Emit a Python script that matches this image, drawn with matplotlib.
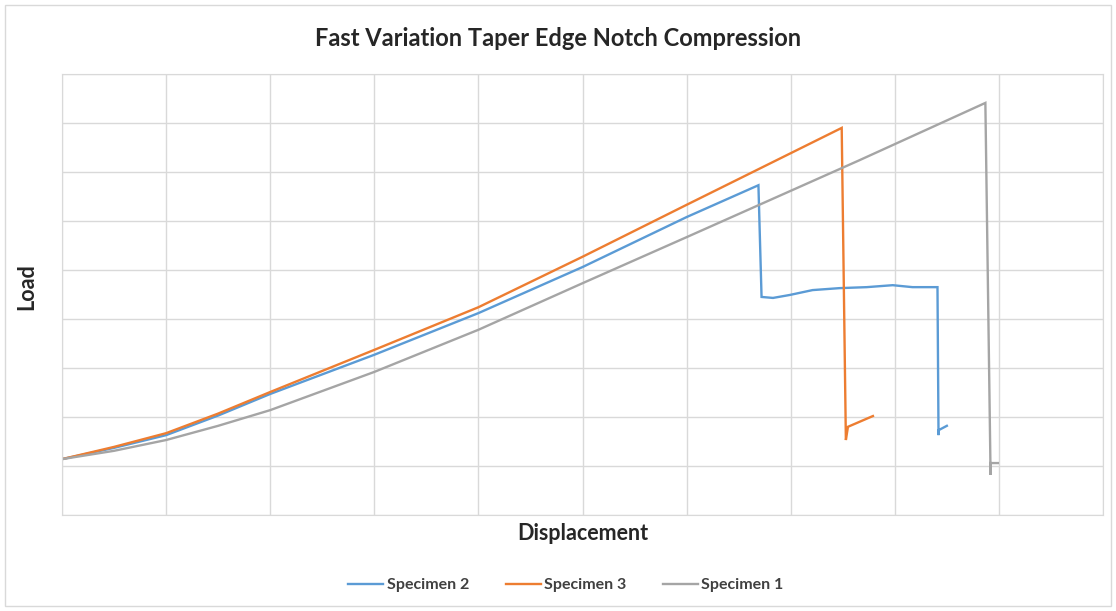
import numpy as np
import matplotlib.pyplot as plt
from matplotlib.patches import Rectangle

# Load / displacement curves (arbitrary units: no tick labels shown)
spec2_x = [0.0, 0.5, 1.0, 1.5, 2.0, 3.0, 4.0, 5.0, 6.0, 6.69,
           6.72, 6.83, 6.99, 7.21, 7.47, 7.73, 7.98, 8.17, 8.37, 8.41,
           8.42, 8.42, 8.50]
spec2_y = [1.14, 1.37, 1.63, 2.03, 2.47, 3.27, 4.12, 5.06, 6.08, 6.73,
           4.45, 4.43, 4.49, 4.59, 4.63, 4.65, 4.69, 4.65, 4.65, 4.65,
           1.63, 1.73, 1.82]

spec3_x = [0.0, 0.5, 1.0, 1.5, 2.0, 3.0, 4.0, 5.0, 6.0, 7.49,
           7.53, 7.55, 7.79]
spec3_y = [1.14, 1.39, 1.67, 2.07, 2.51, 3.37, 4.24, 5.27, 6.33, 7.90,
           1.53, 1.80, 2.02]

spec1_x = [0.0, 0.5, 1.0, 1.5, 2.0, 3.0, 4.0, 5.0, 6.0, 7.66, 8.87,
           8.92, 8.92, 8.99]
spec1_y = [1.14, 1.31, 1.53, 1.82, 2.14, 2.92, 3.78, 4.73, 5.67, 7.24, 8.41,
           0.82, 1.06, 1.06]

series = [
    ('Specimen 2', spec2_x, spec2_y, '#5B9BD5'),
    ('Specimen 3', spec3_x, spec3_y, '#ED7D31'),
    ('Specimen 1', spec1_x, spec1_y, '#A5A5A5'),
]

W, H = 1116, 611
fig = plt.figure(figsize=(W / 100, H / 100), dpi=100)
ax = fig.add_axes([62 / W, 1 - 515 / H, (1103 - 62) / W, (515 - 74) / H])

for label, xs, ys, color in series:
    ax.plot(xs, ys, color=color, lw=1.7, label=label, solid_joinstyle='miter')

ax.set_xlim(0, 10)
ax.set_ylim(0, 9)
ax.set_xticks(np.arange(0, 11, 1))
ax.set_yticks(np.arange(0, 10, 1))
ax.tick_params(length=0, labelleft=False, labelbottom=False)
ax.grid(True, color='#D9D9D9', lw=1.0)
ax.set_axisbelow(True)
for sp in ax.spines.values():
    sp.set_color('#D9D9D9')

lab_font = dict(fontfamily='Lato', fontweight='bold', fontsize=15.5, color='#262626')
ax.set_xlabel('Displacement', va='center', **lab_font)
ax.xaxis.set_label_coords(0.5005, -18 / 441)
ax.set_ylabel('Load', va='center', **lab_font)
ax.yaxis.set_label_coords(-35 / 1041, 228 / 441)

fig.text(0.5, 1 - 38 / H, 'Fast Variation Taper Edge Notch Compression',
         ha='center', va='center', fontfamily='Lato', fontweight='bold',
         fontsize=17, color='#262626')

leg = fig.legend(loc='center', bbox_to_anchor=(566 / W, 1 - 585 / H), ncol=3,
                 frameon=False, handlelength=2.2, handletextpad=0.2,
                 columnspacing=2.3, prop={'family': 'Lato', 'weight': 'bold', 'size': 11.5})
for t in leg.get_texts():
    t.set_color('#404040')

# light outer chart border
fig.patches.append(Rectangle((5 / W, 5 / H), (W - 10) / W, (H - 10) / H,
                             transform=fig.transFigure, fill=False,
                             edgecolor='#D9D9D9', lw=1.0))

fig.savefig('out.png', dpi=100)
